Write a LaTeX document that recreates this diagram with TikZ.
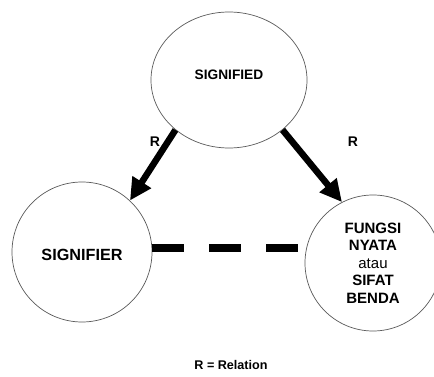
\documentclass[tikz,border=0pt]{standalone}
\usepackage{fontspec}
\setmainfont{Liberation Sans}
\usetikzlibrary{arrows.meta}
\usetikzlibrary{shapes.geometric}

\begin{document}
\begin{tikzpicture}[x=1pt,y=-1pt]
          \useasboundingbox (0,0) rectangle (434,377);
          \begin{scope}[every node/.style={circle,draw=black!65,line width=0.7pt,inner sep=0pt}]
            \node (signified) [ellipse,minimum width=156pt,minimum height=136pt,text depth=10pt,font=\fontsize{13.7}{16}\selectfont\bfseries] at (229,80) {SIGNIFIED};
            \node (signifier) [minimum size=140pt,text height=17.5pt,text depth=0pt,font=\fontsize{16.2}{19}\selectfont\bfseries] at (82,252) {SIGNIFIER};
            \node (fungsi) [minimum size=136pt,align=center,font=\fontsize{15}{17.5}\selectfont\bfseries] at (373,263)
              {FUNGSI\\NYATA\\{\mdseries atau}\\SIFAT\\BENDA};
          \end{scope}

          \tikzset{rel/.style={line width=6.5pt,-{Triangle[length=22pt,width=21pt]}}}
          \draw [rel] (signified.-137) -- (signifier.47);
          \draw [rel] (signified.-43) -- (fungsi.117);
          \draw [line width=8pt,dash pattern=on 32pt off 25pt] (signifier.3) -- (signifier.3 -| fungsi.west);

          \node (rleft) [font=\fontsize{14}{16}\selectfont\bfseries] at (155,142) {R};
          \node (rright) [font=\fontsize{14}{16}\selectfont\bfseries] at (353,142) {R};
          \node (legend) [font=\fontsize{12.6}{15}\selectfont\bfseries] at (231,365) {R = Relation};
        \end{tikzpicture}
\end{document}
